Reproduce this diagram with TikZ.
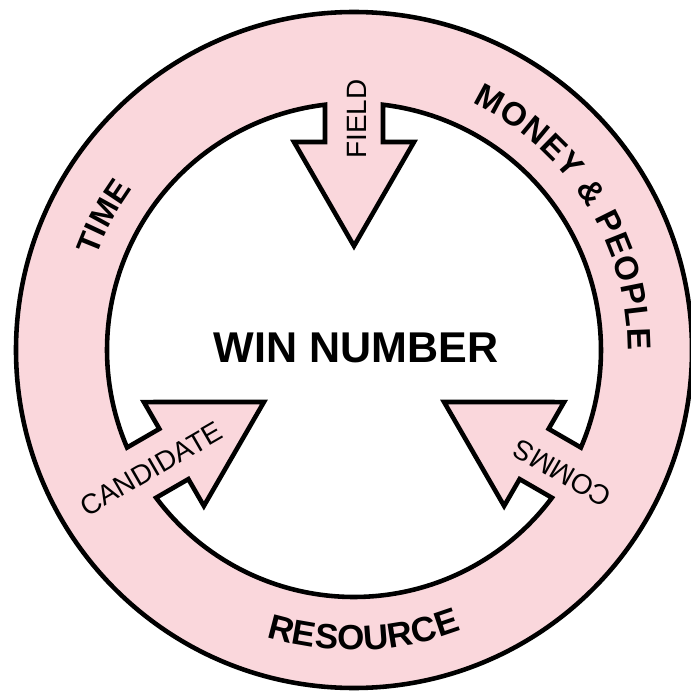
\documentclass[tikz,border=0pt]{standalone}
\usepackage{fontspec}
\setmainfont{Liberation Sans}
\definecolor{ringpink}{RGB}{250,215,220}

\tikzset{
    ringline/.style={line width=2.6pt, line join=miter},
    ringletter/.style={font=\bfseries\fontsize{18.2}{20}\selectfont, inner sep=0pt, anchor=base},
    wideletter/.style={font=\bfseries\fontsize{18.8}{20}\selectfont, inner sep=0pt, anchor=base},
    bigletter/.style={font=\bfseries\fontsize{19.9}{21}\selectfont, inner sep=0pt, anchor=base},
    arrowlabel/.style={font=\fontsize{15.9}{17}\selectfont, inner sep=0pt},
    centrelabel/.style={font=\bfseries\fontsize{24.5}{26}\selectfont, inner sep=0pt}
}

\begin{document}
\begin{tikzpicture}[x=0.02cm, y=0.02cm]
    \useasboundingbox (-354,-343) rectangle (336,350);

    % ring, with the three arrows pushed in from its inner edge
    \filldraw[ringline, fill=ringpink, even odd rule]
        (0,0) circle[radius=338]
        (96.74:247)
        \foreach \a in {210,330,90} {
            arc[start angle=\a-113.26, end angle=\a-6.74, radius=247]
            -- ({\a-7.94}:210.01) -- ({\a-16.09}:216.48) -- (\a:104)
            -- ({\a+16.09}:216.48) -- ({\a+7.94}:210.01) -- ({\a+6.74}:247)
        } -- cycle;

    % words round the ring, one letter at a time (offsets along the baseline)
    \foreach \l/\s [count=\i] in {T/-28.4, I/-14.2, M/3.6, E/27.6}
        \node[ringletter, rotate={62-(\s)*0.2091}] (time\i) at ({152-(\s)*0.2091}:274) {\l};
    \foreach \l/\s [count=\i] in {M/-130.7, O/-104.9, N/-80.9, E/-58.7, Y/-37.4, \&/-6.2,
                                  P/24.9, E/46.2, O/69.3, P/92.5, L/112.9, E/133.4}
        \node[wideletter, rotate={-57.8-(\s)*0.2250}] (money\i) at ({32.2-(\s)*0.2250}:274) {\l};
    \foreach \l/\s [count=\i] in {R/-84.1, E/-60.5, S/-37.8, O/-13.2, U/12.3, R/36.8, C/61.4, E/85.0}
        \node[bigletter, rotate={362+(\s)*0.1966}] (resource\i) at ({272+(\s)*0.1966}:300) {\l};

    % arrow labels
    \node[arrowlabel, rotate=90] (field) at (89.3:231) {FIELD};
    \node[arrowlabel, rotate=30] (candidate) at (210.4:235) {CANDIDATE};
    \node[arrowlabel, rotate=150] (comms) at (329.4:242) {COMMS};

    \node[centrelabel] (win) at (2,2.5) {WIN NUMBER};
\end{tikzpicture}
\end{document}
